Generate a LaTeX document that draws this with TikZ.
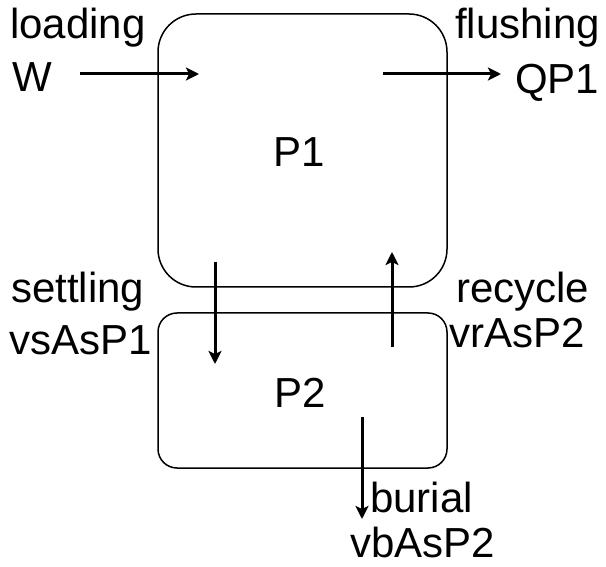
\documentclass[tikz,border=0pt]{standalone}
\usepackage{fontspec}
\setmainfont{Liberation Sans}
\usetikzlibrary{arrows.meta}
\begin{document}
\begin{tikzpicture}[x=1pt,y=-1pt,
  pool/.style={draw=black,line width=1.5pt,rectangle,inner sep=0pt,font=\fontsize{42}{48}\selectfont},
  flow/.style={line width=3pt,-{Stealth[length=13pt,width=13pt,inset=3pt]}},
  lbl/.style={inner sep=0pt,anchor=base west,font=\fontsize{42}{48}\selectfont}]
\useasboundingbox (0,0) rectangle (606,567);
\node[pool,rounded corners=38pt,minimum width=289pt,minimum height=273pt] (P1) at (302.5,150.5) {};
\node[inner sep=0pt,anchor=base,font=\fontsize{42}{48}\selectfont] (P1t) at (299,167) {P1};
\node[pool,rounded corners=19pt,minimum width=289pt,minimum height=155pt] (P2) at (302.5,390.5) {};
\node[inner sep=0pt,anchor=base,font=\fontsize{42}{48}\selectfont] (P2t) at (300,407) {P2};
% arrow end points
\coordinate (la) at (80,74); \coordinate (lb) at (199,74);
\coordinate (fa) at (383,74); \coordinate (fb) at (501,74);
\coordinate (sa) at (215,262); \coordinate (sb) at (215,364);
\coordinate (ra) at (392,347); \coordinate (rb) at (392,252);
\coordinate (ba) at (362,417); \coordinate (bb) at (362,519);
\draw[flow] (la) -- (lb);
\draw[flow] (fa) -- (fb);
\draw[flow] (sa) -- (sb);
\draw[flow] (ra) -- (rb);
\draw[flow] (ba) -- (bb);
% labels
\node[lbl] (t1) at (10,39) {loading};
\node[lbl] (t2) at (12,92) {W};
\node[lbl] (t3) at (455,39) {flushing};
\node[lbl] (t4) at (515,94) {QP1};
\node[lbl] (t5) at (11,302) {settling};
\node[lbl] (t6) at (9,355) {vsAsP1};
\node[lbl] (t7) at (456,302) {recycle};
\node[lbl] (t8) at (449,348) {vrAsP2};
\node[lbl] (t9) at (370,512) {burial};
\node[lbl,text depth=0pt] (t10) at (350,557) {vbAsP2};
\end{tikzpicture}
\end{document}
